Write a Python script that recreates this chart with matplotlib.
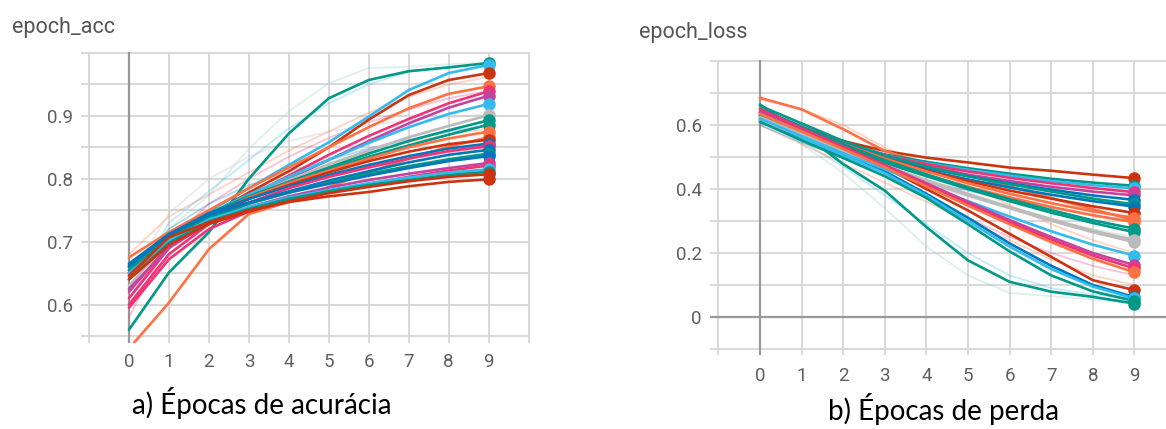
import numpy as np
import matplotlib.pyplot as plt

# cores estilo TensorBoard
OR, BL, RD, CY, PK, TL, GR, PU = ('#ff7043', '#0077bb', '#cc3311', '#33bbee',
                                  '#ee3377', '#009988', '#bbbbbb', '#c2449f')

epochs = list(range(10))

# epoch_acc - curvas principais
acc_runs = [
    [0.560, 0.651, 0.715, 0.800, 0.872, 0.928, 0.957, 0.971, 0.977, 0.984],
    [0.660, 0.712, 0.748, 0.785, 0.822, 0.858, 0.899, 0.941, 0.968, 0.981],
    [0.645, 0.700, 0.742, 0.778, 0.812, 0.850, 0.894, 0.933, 0.957, 0.968],
    [0.675, 0.715, 0.750, 0.785, 0.818, 0.850, 0.882, 0.912, 0.935, 0.947],
    [0.610, 0.690, 0.735, 0.772, 0.805, 0.838, 0.868, 0.895, 0.920, 0.939],
    [0.620, 0.695, 0.735, 0.768, 0.800, 0.830, 0.860, 0.888, 0.913, 0.932],
    [0.655, 0.708, 0.745, 0.775, 0.803, 0.830, 0.857, 0.882, 0.903, 0.919],
    [0.630, 0.700, 0.740, 0.770, 0.798, 0.823, 0.845, 0.866, 0.884, 0.901],
    [0.650, 0.705, 0.742, 0.770, 0.795, 0.818, 0.840, 0.860, 0.877, 0.893],
    [0.660, 0.710, 0.745, 0.772, 0.795, 0.815, 0.835, 0.853, 0.870, 0.886],
    [0.640, 0.700, 0.742, 0.770, 0.793, 0.813, 0.832, 0.850, 0.864, 0.875],
    [0.530, 0.603, 0.688, 0.744, 0.763, 0.787, 0.810, 0.832, 0.851, 0.866],
    [0.650, 0.705, 0.742, 0.768, 0.790, 0.810, 0.828, 0.843, 0.855, 0.862],
    [0.665, 0.712, 0.745, 0.768, 0.788, 0.806, 0.822, 0.836, 0.848, 0.856],
    [0.600, 0.680, 0.728, 0.762, 0.785, 0.803, 0.818, 0.832, 0.844, 0.852],
    [0.660, 0.710, 0.740, 0.762, 0.780, 0.797, 0.812, 0.826, 0.838, 0.846],
    [0.655, 0.705, 0.738, 0.760, 0.778, 0.794, 0.808, 0.820, 0.831, 0.840],
    [0.663, 0.712, 0.742, 0.762, 0.778, 0.792, 0.805, 0.817, 0.828, 0.836],
    [0.625, 0.690, 0.730, 0.755, 0.772, 0.786, 0.798, 0.808, 0.817, 0.825],
    [0.595, 0.672, 0.720, 0.748, 0.766, 0.780, 0.792, 0.803, 0.813, 0.821],
    [0.650, 0.702, 0.735, 0.755, 0.770, 0.782, 0.793, 0.802, 0.810, 0.815],
    [0.640, 0.698, 0.732, 0.752, 0.768, 0.780, 0.790, 0.798, 0.806, 0.811],
    [0.640, 0.695, 0.728, 0.748, 0.764, 0.777, 0.787, 0.796, 0.803, 0.807],
    [0.646, 0.707, 0.731, 0.750, 0.763, 0.772, 0.779, 0.788, 0.795, 0.799],
]
acc_colors = [TL, CY, RD, OR, PK, PU, CY, GR, TL, TL, OR, OR, RD, BL,
              PK, BL, TL, BL, PU, PK, CY, TL, RD, RD]

# epoch_acc - curvas claras (sem suavizacao)
acc_faint = [
    [0.600, 0.720, 0.774, 0.848, 0.907, 0.952, 0.976, 0.978, 0.982, 0.985],
    [0.620, 0.730, 0.780, 0.830, 0.880, 0.920, 0.950, 0.970, 0.978, 0.983],
    [0.680, 0.740, 0.775, 0.810, 0.845, 0.875, 0.905, 0.930, 0.950, 0.962],
    [0.580, 0.700, 0.760, 0.800, 0.835, 0.865, 0.890, 0.910, 0.928, 0.940],
    [0.640, 0.745, 0.800, 0.835, 0.860, 0.875, 0.885, 0.893, 0.898, 0.902],
    [0.650, 0.720, 0.760, 0.790, 0.812, 0.830, 0.848, 0.862, 0.875, 0.885],
    [0.560, 0.650, 0.720, 0.770, 0.800, 0.823, 0.842, 0.858, 0.870, 0.880],
    [0.610, 0.700, 0.740, 0.770, 0.790, 0.806, 0.820, 0.832, 0.842, 0.850],
]
acc_faint_colors = ['#8fcfc4', CY, OR, PK, GR, BL, OR, PK]

# epoch_loss - curvas principais
loss_runs = [
    [0.664, 0.576, 0.478, 0.395, 0.281, 0.177, 0.110, 0.079, 0.063, 0.042],
    [0.633, 0.590, 0.550, 0.519, 0.498, 0.483, 0.467, 0.457, 0.445, 0.434],
    [0.685, 0.649, 0.587, 0.519, 0.478, 0.443, 0.408, 0.372, 0.337, 0.302],
    [0.640, 0.580, 0.525, 0.468, 0.400, 0.333, 0.260, 0.188, 0.115, 0.084],
    [0.620, 0.560, 0.510, 0.455, 0.385, 0.310, 0.230, 0.160, 0.100, 0.062],
    [0.615, 0.560, 0.505, 0.450, 0.380, 0.300, 0.220, 0.150, 0.095, 0.058],
    [0.640, 0.590, 0.545, 0.508, 0.485, 0.465, 0.448, 0.432, 0.420, 0.410],
    [0.625, 0.580, 0.540, 0.505, 0.480, 0.460, 0.442, 0.425, 0.412, 0.402],
    [0.650, 0.595, 0.545, 0.505, 0.478, 0.455, 0.435, 0.418, 0.403, 0.390],
    [0.630, 0.585, 0.540, 0.500, 0.470, 0.445, 0.425, 0.407, 0.392, 0.380],
    [0.615, 0.570, 0.530, 0.495, 0.465, 0.440, 0.418, 0.398, 0.380, 0.366],
    [0.660, 0.605, 0.550, 0.505, 0.470, 0.440, 0.415, 0.392, 0.370, 0.352],
    [0.610, 0.565, 0.525, 0.490, 0.458, 0.430, 0.405, 0.382, 0.362, 0.345],
    [0.625, 0.578, 0.535, 0.495, 0.458, 0.425, 0.395, 0.370, 0.346, 0.325],
    [0.640, 0.590, 0.540, 0.495, 0.455, 0.418, 0.385, 0.356, 0.330, 0.310],
    [0.620, 0.570, 0.525, 0.482, 0.443, 0.407, 0.374, 0.344, 0.318, 0.296],
    [0.650, 0.595, 0.540, 0.490, 0.446, 0.405, 0.368, 0.334, 0.302, 0.276],
    [0.630, 0.578, 0.528, 0.482, 0.440, 0.400, 0.362, 0.326, 0.294, 0.265],
    [0.625, 0.572, 0.522, 0.474, 0.428, 0.385, 0.344, 0.306, 0.270, 0.241],
    [0.615, 0.565, 0.515, 0.468, 0.423, 0.380, 0.340, 0.301, 0.265, 0.234],
    [0.620, 0.565, 0.512, 0.462, 0.412, 0.362, 0.314, 0.268, 0.226, 0.192],
    [0.640, 0.585, 0.530, 0.475, 0.418, 0.360, 0.303, 0.250, 0.200, 0.162],
    [0.650, 0.590, 0.532, 0.474, 0.414, 0.354, 0.296, 0.242, 0.192, 0.152],
    [0.635, 0.580, 0.525, 0.468, 0.408, 0.348, 0.290, 0.234, 0.182, 0.140],
    [0.610, 0.552, 0.497, 0.440, 0.372, 0.290, 0.205, 0.130, 0.080, 0.050],
]
loss_colors = [TL, RD, OR, RD, BL, CY, TL, CY, PK, PU, BL, TL, BL, RD, OR,
               OR, TL, TL, GR, GR, CY, PU, PK, OR, TL]

loss_faint = [
    [0.640, 0.540, 0.450, 0.340, 0.220, 0.130, 0.075, 0.065, 0.055, 0.045],
    [0.630, 0.550, 0.470, 0.380, 0.290, 0.200, 0.130, 0.090, 0.070, 0.060],
    [0.600, 0.540, 0.480, 0.420, 0.360, 0.300, 0.240, 0.180, 0.130, 0.100],
    [0.620, 0.560, 0.500, 0.440, 0.380, 0.310, 0.250, 0.200, 0.160, 0.130],
    [0.610, 0.555, 0.505, 0.460, 0.415, 0.375, 0.340, 0.305, 0.275, 0.250],
    [0.600, 0.545, 0.500, 0.460, 0.425, 0.395, 0.365, 0.340, 0.318, 0.300],
    [0.680, 0.650, 0.600, 0.530, 0.470, 0.410, 0.350, 0.290, 0.240, 0.200],
]
loss_faint_colors = ['#8fcfc4', CY, OR, PK, GR, BL, OR]

acc_yticks = [0.55, 0.6, 0.65, 0.7, 0.75, 0.8, 0.85, 0.9, 0.95, 1.0]
acc_ylabels = ['', '0.6', '', '0.7', '', '0.8', '', '0.9', '', '']
loss_yticks = [-0.1, 0.0, 0.1, 0.2, 0.3, 0.4, 0.5, 0.6, 0.7, 0.8]
loss_ylabels = ['', '0', '', '0.2', '', '0.4', '', '0.6', '', '']

plt.rcParams['font.family'] = ['Roboto', 'DejaVu Sans']

fig = plt.figure(figsize=(11.66, 4.29), dpi=100)
ax1 = fig.add_axes([0.0695, 0.2007, 0.3849, 0.6788])
ax2 = fig.add_axes([0.609, 0.1716, 0.391, 0.6876])


def draw(ax, runs, colors, faint, faint_colors, yticks, ylabels, ylim, xlim, xpad):
    for s, c in zip(faint, faint_colors):
        ax.plot(epochs, s, color=c, lw=1.3, alpha=0.3, zorder=2)
    for s, c in zip(runs, colors):
        ax.plot(epochs, s, color=c, lw=1.9, zorder=3, solid_capstyle='round',
                solid_joinstyle='round')
    for s, c in zip(runs, colors):
        ax.plot(epochs[-1], s[-1], 'o', color=c, ms=9, mec='none', zorder=4,
                clip_on=False)
    xt = list(range(-1, 11))
    ax.set_xticks(xt)
    ax.set_xticklabels([''] + [str(e) for e in epochs] + [''])
    ax.set_yticks(yticks)
    ax.set_yticklabels(ylabels)
    ax.set_xlim(*xlim)
    ax.set_ylim(*ylim)
    ax.grid(True, color='#d6d6d6', lw=1.3, zorder=0)
    ax.set_axisbelow(True)
    ax.axvline(0, color='#999999', lw=1.6, zorder=1)
    for sp in ax.spines.values():
        sp.set_visible(False)
    ax.tick_params(length=0, labelsize=13.5, colors='#5f5f5f')
    ax.tick_params(axis='y', pad=6.0)
    ax.tick_params(axis='x', pad=xpad)


draw(ax1, acc_runs, acc_colors, acc_faint, acc_faint_colors,
     acc_yticks, acc_ylabels, (0.539, 1.002), (-1.2, 10.03), 7.2)
draw(ax2, loss_runs, loss_colors, loss_faint, loss_faint_colors,
     loss_yticks, loss_ylabels, (-0.12, 0.802), (-1.2, 9.76), 8.3)
ax2.axhline(0, color='#999999', lw=1.6, zorder=1)

fig.text(0.0103, 0.923, 'epoch_acc', fontsize=15.5, color='#555555', va='baseline')
fig.text(0.548, 0.911, 'epoch_loss', fontsize=15.5, color='#555555', va='baseline')

fig.text(262 / 1166, 1 - 414 / 429, 'a) Épocas de acurácia', family='Lato',
         fontsize=20, color='black', ha='center', va='baseline')
fig.text(944 / 1166, 1 - 420 / 429, 'b) Épocas de perda', family='Lato',
         fontsize=20, color='black', ha='center', va='baseline')

fig.savefig('out.png', dpi=100)
